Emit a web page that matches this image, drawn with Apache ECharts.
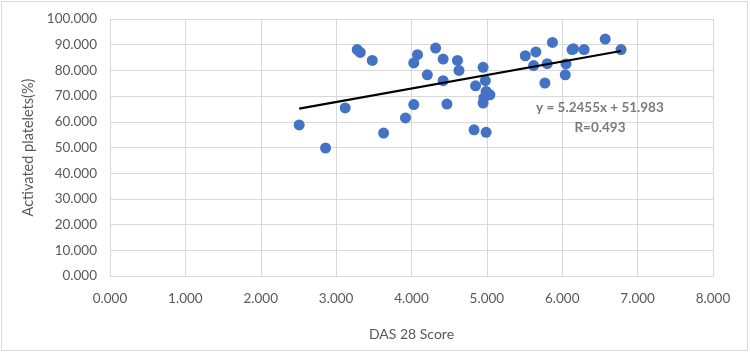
<!DOCTYPE html>
<html lang="en">
<head>
    <meta charset="UTF-8">
    <title>DAS 28 vs activated platelets</title>
    <style>
        html, body { margin: 0; padding: 0; background: #fff; }
    </style>
</head>
<body>
<div id="main" style="width: 750px; height: 353px;"></div>

<script src="https://cdn.jsdelivr.net/npm/echarts@6/dist/echarts.min.js"></script>

<script>
// DAS 28 score of each patient
var dasScore = [2.51, 2.86, 3.12, 3.28, 3.32, 3.48, 3.63, 3.92, 4.03, 4.03,
    4.08, 4.21, 4.32, 4.42, 4.42, 4.47, 4.61, 4.63, 4.83, 4.85,
    4.95, 4.98, 4.99, 5.04, 4.96, 4.95, 4.99, 5.51, 5.65, 5.62,
    5.80, 5.77, 5.87, 6.05, 6.04, 6.13, 6.15, 6.29, 6.57, 6.78];
// activated platelets (%) for the same patients
var activated = [58.8, 49.8, 65.4, 88.1, 87.0, 83.9, 55.6, 61.5, 66.7, 82.9,
    86.1, 78.3, 88.7, 84.4, 76.0, 66.9, 83.9, 80.0, 56.9, 74.0,
    81.2, 76.0, 71.8, 70.5, 69.3, 67.3, 55.9, 85.7, 87.2, 81.9,
    82.6, 75.1, 90.9, 82.5, 78.3, 88.1, 88.4, 88.1, 92.2, 88.1];

// linear trend shown in the chart
var slope = 5.2455;
var intercept = 51.983;
var rValue = 0.493;

var points = dasScore.map(function (x, i) { return [x, activated[i]]; });
var xMin = Math.min.apply(null, dasScore);
var xMax = Math.max.apply(null, dasScore);
var trend = [[xMin, slope * xMin + intercept], [xMax, slope * xMax + intercept]];

var grey = '#595959';
var font = 'Lato, "Open Sans", sans-serif';

var myChart = echarts.init(document.getElementById('main'));

myChart.setOption({
    animation: false,
    textStyle: {fontFamily: font},
    graphic: [{
        type: 'rect',
        shape: {x: 1.5, y: 1.5, width: 746, height: 349},
        style: {fill: 'none', stroke: '#d9d9d9', lineWidth: 1}
    }],
    grid: {left: 110, right: 37, top: 19, bottom: 77},
    xAxis: {
        type: 'value',
        min: 0,
        max: 8,
        interval: 1,
        name: 'DAS 28 Score',
        nameLocation: 'middle',
        nameGap: 51,
        nameTextStyle: {color: grey, fontSize: 14, fontFamily: font},
        axisLine: {show: true, lineStyle: {color: '#d9d9d9'}},
        axisTick: {show: false},
        axisLabel: {color: grey, fontSize: 13.5, margin: 16, formatter: function (v) { return v.toFixed(3); }},
        splitLine: {show: true, lineStyle: {color: '#d9d9d9', width: 1}}
    },
    yAxis: {
        type: 'value',
        min: 0,
        max: 100,
        interval: 10,
        name: 'Activated platelets(%)',
        nameLocation: 'middle',
        nameGap: 70,
        nameTextStyle: {color: grey, fontSize: 14.5, fontFamily: font},
        axisLine: {show: false},
        axisTick: {show: false},
        axisLabel: {color: grey, fontSize: 13.5, margin: 13, formatter: function (v) { return v.toFixed(3); }},
        splitLine: {show: true, lineStyle: {color: '#d9d9d9', width: 1}}
    },
    series: [
        {
            name: 'patients',
            type: 'scatter',
            data: points,
            symbolSize: 11,
            itemStyle: {color: '#4472C4', opacity: 1}
        },
        {
            name: 'trend',
            type: 'line',
            data: trend,
            symbol: 'none',
            lineStyle: {color: '#000', width: 2.2},
            z: 3
        },
        {
            name: 'equation',
            type: 'scatter',
            data: [[6.5, 61.5]],
            symbolSize: 0,
            silent: true,
            label: {
                show: true,
                position: 'inside',
                color: grey,
                fontSize: 13.5,
                fontWeight: 'bold',
                lineHeight: 20,
                fontFamily: font,
                formatter: 'y = ' + slope + 'x + ' + intercept + '\nR=' + rValue
            }
        }
    ]
});
</script>
</body>
</html>
